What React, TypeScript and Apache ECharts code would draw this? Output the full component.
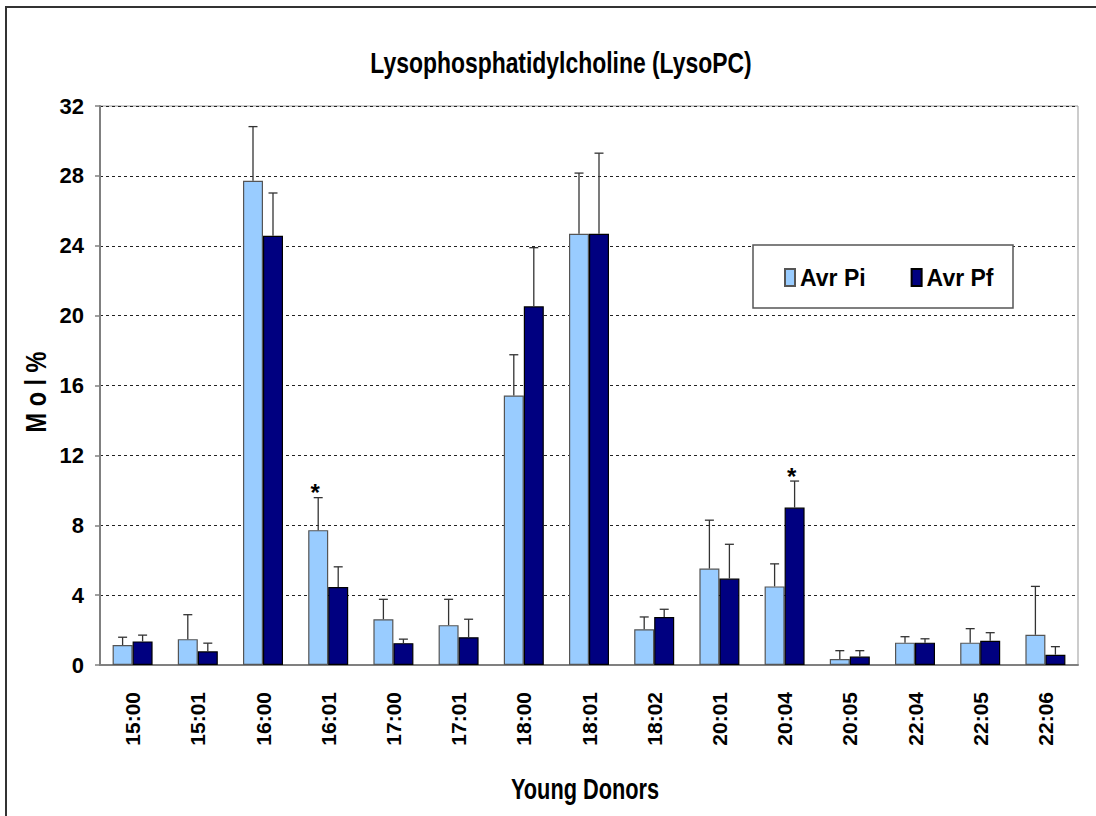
import React, { useEffect, useRef } from "react";
import * as echarts from "echarts";

const categories = ["15:00", "15:01", "16:00", "16:01", "17:00", "17:01", "18:00", "18:01", "18:02", "20:01", "20:04", "20:05", "22:04", "22:05", "22:06"];
const avrPi = [1.14, 1.48, 27.72, 7.72, 2.62, 2.28, 15.43, 24.69, 2.05, 5.52, 4.5, 0.34, 1.28, 1.28, 1.73];
const avrPiErr = [0.45, 1.4, 3.1, 1.86, 1.14, 1.48, 2.33, 3.47, 0.7, 2.77, 1.29, 0.48, 0.34, 0.8, 2.77];
const avrPf = [1.35, 0.78, 24.57, 4.46, 1.25, 1.59, 20.53, 24.69, 2.75, 4.95, 9.01, 0.48, 1.28, 1.39, 0.59];
const avrPfErr = [0.36, 0.47, 2.45, 1.16, 0.23, 1.03, 3.36, 4.61, 0.44, 1.96, 1.52, 0.34, 0.22, 0.46, 0.46];
const piStars = ["16:01"];
const pfStars = ["20:04"];
const seriesNames = ["Avr Pi", "Avr Pf"];
const yMin = 0;
const yMax = 32;
const yStep = 4;
const titleText = "Lysophosphatidylcholine (LysoPC)";
const xTitle = "Young Donors";
const yTitle = "M o l %";

const FONT = '"Liberation Sans", Arial, sans-serif';
const BAR_W = 20;

function errSeries(name: string, vals: number[], errs: number[], stars: string[], offset: number) {
  return {
    type: "custom",
    name: name + " err",
    z: 5,
    silent: true,
    data: vals.map((v, i) => [i, v, v + errs[i], stars.indexOf(categories[i]) >= 0 ? 1 : 0]),
    encode: { x: 0, y: [1, 2] },
    renderItem: (params: any, api: any) => {
      const i = api.value(0);
      const base = api.coord([i, api.value(1)]);
      const top = api.coord([i, api.value(2)]);
      const x = base[0] + offset;
      const children: any[] = [
        { type: "line", shape: { x1: x, y1: base[1], x2: x, y2: top[1] }, style: { stroke: "#333", lineWidth: 1.3 } },
        { type: "line", shape: { x1: x - 4.5, y1: top[1], x2: x + 4.5, y2: top[1] }, style: { stroke: "#333", lineWidth: 1.3 } },
      ];
      if (api.value(3) === 1) {
        children.push({
          type: "text",
          style: { text: "*", x: x - 3, y: top[1] - 5, align: "center", verticalAlign: "middle", font: "bold 24px " + FONT, fill: "#000" },
        });
      }
      return { type: "group", children };
    },
  };
}

export default function App() {
  const ref = useRef<HTMLDivElement>(null);
  useEffect(() => {
    const chart = echarts.init(ref.current!, null, { renderer: "svg" });
    chart.setOption({
      animation: false,
      backgroundColor: "#fff",
      legend: {
        left: 779,
        top: 261,
        z: 20,
        itemWidth: 10,
        itemHeight: 17,
        itemGap: 45,
        icon: "rect",
        data: seriesNames,
        textStyle: { fontFamily: FONT, fontWeight: "bold", fontSize: 23, color: "#000" },
      },
      graphic: [
        { type: "rect", z: 10, shape: { x: 753, y: 245, width: 260, height: 63 }, style: { fill: "#fff", stroke: "#555", lineWidth: 1.5 } },
        { type: "rect", z: 0, silent: true, shape: { x: 6, y: 7, width: 1300, height: 1000 }, style: { fill: "none", stroke: "#333", lineWidth: 2 } },
        {
          type: "text",
          x: 561,
          y: 63,
          scaleX: 0.79,
          style: { text: titleText, align: "center", verticalAlign: "middle", font: "bold 29px " + FONT, fill: "#000" },
        },
        {
          type: "text",
          x: 585,
          y: 789,
          scaleX: 0.75,
          style: { text: xTitle, align: "center", verticalAlign: "middle", font: "bold 29px " + FONT, fill: "#000" },
        },
        {
          type: "text",
          x: 36,
          y: 392,
          rotation: Math.PI / 2,
          scaleX: 0.81,
          style: { text: yTitle, align: "center", verticalAlign: "middle", font: "bold 29px " + FONT, fill: "#000" },
        },
      ],
      grid: { left: 100, right: 18, top: 106, bottom: 151, show: true, borderColor: "#999", borderWidth: 1 },
      xAxis: {
        type: "category",
        data: categories,
        axisLine: { lineStyle: { color: "#808080", width: 2 } },
        axisTick: { length: 6, lineStyle: { color: "#808080", width: 1.5 } },
        axisLabel: {
          rotate: 90,
          margin: 27,
          fontFamily: FONT,
          fontWeight: "bold",
          fontSize: 21,
          color: "#000",
        },
      },
      yAxis: {
        type: "value",
        min: yMin,
        max: yMax,
        interval: yStep,
        axisLine: { show: true, lineStyle: { color: "#808080", width: 2 } },
        axisTick: { show: true, length: 5, lineStyle: { color: "#808080", width: 1.5 } },
        axisLabel: { fontFamily: FONT, fontWeight: "bold", fontSize: 22, color: "#000", margin: 16 },
        splitLine: { lineStyle: { color: "#222", type: [3, 3], width: 1 } },
      },
      series: [
        {
          type: "bar",
          name: seriesNames[0],
          data: avrPi,
          barWidth: BAR_W,
          barGap: "0%",
          itemStyle: { color: "#99CCFF", borderColor: "#555", borderWidth: 1.2 },
        },
        {
          type: "bar",
          name: seriesNames[1],
          data: avrPf,
          barWidth: BAR_W,
          barGap: "0%",
          itemStyle: { color: "#000080", borderColor: "#000", borderWidth: 1.2 },
        },
        errSeries(seriesNames[0], avrPi, avrPiErr, piStars, -BAR_W / 2),
        errSeries(seriesNames[1], avrPf, avrPfErr, pfStars, BAR_W / 2),
      ],
    });
    return () => chart.dispose();
  }, []);
  return (
    <div style={{ position: "fixed", left: 0, top: 0, width: 1096, height: 816, overflow: "hidden", background: "#fff" }}>
      <div ref={ref} style={{ width: 1096, height: 816 }} />
    </div>
  );
}
